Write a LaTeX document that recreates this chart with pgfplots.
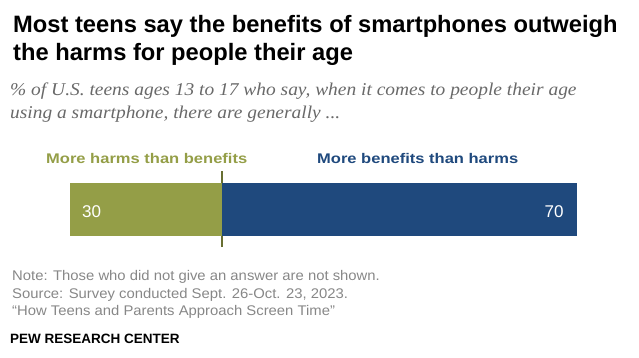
\documentclass[border=0pt]{standalone}
\usepackage{fontspec}
\setmainfont{Liberation Sans}
\newfontfamily\serifit[FakeStretch=1.08]{Liberation Serif}
\newfontfamily\widesans[FakeStretch=1.18]{Liberation Sans}
\newfontfamily\notesans[FakeStretch=1.06]{Liberation Sans}
\usepackage{pgfplots}
\pgfplotsset{compat=1.18}
\definecolor{olive}{RGB}{148,158,71}
\definecolor{pewblue}{RGB}{31,73,125}
\definecolor{notegray}{RGB}{135,135,135}
\definecolor{subgray}{RGB}{105,105,105}
\begin{document}
\begin{tikzpicture}
\useasboundingbox (0pt,0pt) rectangle (639pt,-357pt);
% title
\node[anchor=base west,inner sep=0] at (13pt,-32pt) {\fontsize{23.7}{27}\selectfont\bfseries Most teens say the benefits of smartphones outweigh};
\node[anchor=base west,inner sep=0] at (13pt,-60pt) {\fontsize{23.7}{27}\selectfont\bfseries the harms for people their age};
% subtitle
\node[anchor=base west,inner sep=0,text=subgray] at (10pt,-95pt) {\fontsize{18}{20}\selectfont\serifit\itshape \% of U.S. teens ages 13 to 17 who say, when it comes to people their age};
\node[anchor=base west,inner sep=0,text=subgray] at (10pt,-118pt) {\fontsize{18}{20}\selectfont\serifit\itshape using a smartphone, there are generally ...};
\begin{axis}[
  at={(70pt,-236pt)}, anchor=south west,
  scale only axis, width=507pt, height=53pt,
  xmin=0, xmax=100, ymin=-0.5, ymax=0.5,
  xbar stacked, bar width=53pt,
  axis lines=none, clip=false,
  xtick=\empty, ytick=\empty,
]
\addplot[fill=olive, draw=none] coordinates {(30,0)};
\addplot[fill=pewblue, draw=none] coordinates {(70,0)};
\draw[olive!70!black, line width=1.3pt] (axis cs:30,-0.71) -- (axis cs:30,0.72);
\coordinate (lab30) at (axis cs:2.35,-0.16);
\coordinate (lab70) at (axis cs:97.4,-0.16);
\end{axis}
\node[anchor=base west, inner sep=0, text=white] at (lab30) {\fontsize{17}{19}\selectfont 30};
\node[anchor=base east, inner sep=0, text=white] at (lab70) {\fontsize{17}{19}\selectfont 70};
\node[anchor=base west,inner sep=0,text=olive] at (46pt,-163pt) {\fontsize{14}{16}\selectfont\widesans\bfseries More harms than benefits};
\node[anchor=base west,inner sep=0,text=pewblue] at (317pt,-163pt) {\fontsize{14}{16}\selectfont\widesans\bfseries More benefits than harms};
% notes
\node[anchor=base west,inner sep=0,text=notegray] at (12pt,-280pt) {\fontsize{14}{16}\selectfont\notesans Note: Those who did not give an answer are not shown.};
\node[anchor=base west,inner sep=0,text=notegray] at (12pt,-298pt) {\fontsize{14}{16}\selectfont\notesans Source: Survey conducted Sept. 26-Oct. 23, 2023.};
\node[anchor=base west,inner sep=0,text=notegray] at (12pt,-315pt) {\fontsize{14}{16}\selectfont\notesans “How Teens and Parents Approach Screen Time”};
\node[anchor=base west,inner sep=0] at (10pt,-343pt) {\fontsize{13.5}{15}\selectfont\bfseries PEW RESEARCH CENTER};
\end{tikzpicture}
\end{document}
